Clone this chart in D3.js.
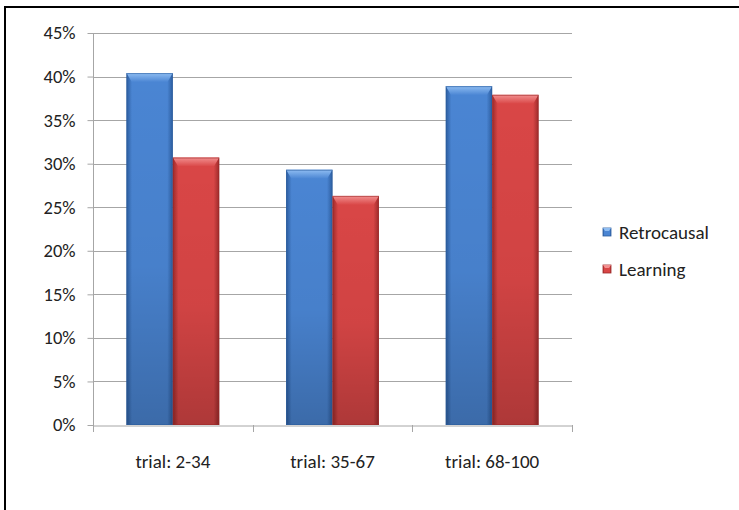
<!DOCTYPE html>
<html>
<head>
<meta charset="utf-8">
<script src="https://cdn.jsdelivr.net/npm/d3@7"></script>
<style>
  html, body { margin: 0; padding: 0; background: #fff; }
  svg { display: block; }
  text { font-family: Carlito, Calibri, Lato, "Open Sans", sans-serif; fill: #222; }
</style>
</head>
<body>
<svg id="chart" width="739" height="510"></svg>
<script>
// Share of hits per trial block
const categories = ["trial: 2-34", "trial: 35-67", "trial: 68-100"];
const seriesNames = ["Retrocausal", "Learning"];
const retrocausal = [0.404, 0.293, 0.389];
const learning = [0.307, 0.263, 0.379];
const yTicks = [0, 0.05, 0.10, 0.15, 0.20, 0.25, 0.30, 0.35, 0.40, 0.45];

const seriesValues = [retrocausal, learning];
const palette = [
  { light: "#8fbdf2", mid: "#4a85d3", dark: "#2c5d9f" },
  { light: "#f29090", mid: "#d94646", dark: "#9c2a2a" }
];

const svg = d3.select("#chart");
const W = 739, H = 510;
const m = { left: 93, right: 167, top: 33, bottom: 85 };
const fontStack = "Carlito, Calibri, Lato, sans-serif";

// frame lines along the top and left
svg.append("line").attr("x1", 5).attr("x2", W).attr("y1", 7).attr("y2", 7)
  .attr("stroke", "#000").attr("stroke-width", 2);
svg.append("line").attr("x1", 5).attr("x2", 5).attr("y1", 6).attr("y2", H)
  .attr("stroke", "#000").attr("stroke-width", 2);

const x0 = d3.scaleBand().domain(categories).range([m.left, W - m.right]).paddingInner(0).paddingOuter(0);
const x1 = d3.scaleBand().domain(seriesNames).range([0, x0.bandwidth()]).paddingInner(0).paddingOuter(0.72);
const y = d3.scaleLinear().domain([0, 0.45]).range([H - m.bottom, m.top]);

const defs = svg.append("defs");
palette.forEach((c, i) => {
  const hg = defs.append("linearGradient").attr("id", "body" + i).attr("x1", 0).attr("x2", 1).attr("y1", 0).attr("y2", 0);
  hg.append("stop").attr("offset", "0%").attr("stop-color", c.dark);
  hg.append("stop").attr("offset", "12%").attr("stop-color", c.mid);
  hg.append("stop").attr("offset", "88%").attr("stop-color", c.mid);
  hg.append("stop").attr("offset", "100%").attr("stop-color", c.dark);
  const tg = defs.append("linearGradient").attr("id", "top" + i).attr("x1", 0).attr("x2", 0).attr("y1", 0).attr("y2", 1);
  tg.append("stop").attr("offset", "0%").attr("stop-color", c.light);
  tg.append("stop").attr("offset", "100%").attr("stop-color", c.mid);
});
const shade = defs.append("linearGradient").attr("id", "shade").attr("x1", 0).attr("x2", 0).attr("y1", 0).attr("y2", 1);
shade.append("stop").attr("offset", "0%").attr("stop-color", "#000").attr("stop-opacity", 0);
shade.append("stop").attr("offset", "55%").attr("stop-color", "#000").attr("stop-opacity", 0.04);
shade.append("stop").attr("offset", "100%").attr("stop-color", "#000").attr("stop-opacity", 0.2);

// horizontal gridlines
svg.append("g").selectAll("line").data(yTicks.slice(1)).join("line")
  .attr("x1", m.left).attr("x2", W - m.right)
  .attr("y1", d => Math.round(y(d)) + 0.5).attr("y2", d => Math.round(y(d)) + 0.5)
  .attr("stroke", "#a6a6a6").attr("stroke-width", 1);

// y axis
const yAxis = svg.append("g").attr("transform", `translate(${m.left + 0.5},0)`)
  .call(d3.axisLeft(y).tickValues(yTicks).tickFormat(d3.format(".0%")).tickSize(6).tickPadding(12));
yAxis.select(".domain").attr("stroke", "#a6a6a6").attr("d", `M0,${y(0.45)}V${y(0)}`);
yAxis.selectAll(".tick line").attr("stroke", "#a6a6a6");
yAxis.selectAll(".tick text").attr("font-size", 18.5).attr("fill", "#222")
  .attr("font-family", fontStack);

// x axis
const xAxis = svg.append("g").attr("transform", `translate(0,${Math.round(y(0)) + 0.5})`)
  .call(d3.axisBottom(x0).tickSize(0).tickPadding(29));
xAxis.select(".domain").attr("stroke", "#a6a6a6");
xAxis.selectAll(".tick text").attr("font-size", 19).attr("fill", "#222")
  .attr("font-family", fontStack);
// category separators
svg.append("g").selectAll("line")
  .data(categories.map(c => x0(c)).concat([x0(categories[categories.length - 1]) + x0.bandwidth()]))
  .join("line")
  .attr("x1", d => Math.round(d) + 0.5).attr("x2", d => Math.round(d) + 0.5)
  .attr("y1", Math.round(y(0))).attr("y2", Math.round(y(0)) + 7)
  .attr("stroke", "#a6a6a6");

// bars with bevelled tops
const bars = [];
categories.forEach((c, ci) => {
  seriesNames.forEach((s, si) => {
    bars.push({ cat: c, s: s, si: si, v: seriesValues[si][ci] });
  });
});
const bev = 9;
const g = svg.append("g").selectAll("g").data(bars).join("g")
  .attr("transform", d => `translate(${x0(d.cat) + x1(d.s)},0)`);
const bw = x1.bandwidth();
g.append("rect").attr("x", 0).attr("width", bw)
  .attr("y", d => y(d.v)).attr("height", d => y(0) - y(d.v))
  .attr("fill", d => `url(#body${d.si})`);
g.append("rect").attr("x", 0).attr("width", bw)
  .attr("y", d => y(d.v)).attr("height", d => y(0) - y(d.v))
  .attr("fill", "url(#shade)");
g.append("path")
  .attr("d", d => { const t = y(d.v); return `M0,${t}H${bw}L${bw - bev * 0.6},${t + bev}H${bev * 0.6}Z`; })
  .attr("fill", d => `url(#top${d.si})`);
g.append("rect").attr("x", 0.5).attr("width", bw - 1)
  .attr("y", d => y(d.v) + 0.5).attr("height", d => y(0) - y(d.v) - 1)
  .attr("fill", "none").attr("stroke", d => palette[d.si].dark).attr("stroke-opacity", 0.6);

// legend
const legend = svg.append("g").attr("transform", "translate(603,228)");
seriesNames.forEach((s, i) => {
  const lg = legend.append("g").attr("transform", `translate(0,${i * 37})`);
  lg.append("rect").attr("width", 8).attr("height", 8).attr("fill", `url(#body${i})`)
    .attr("stroke", palette[i].dark).attr("stroke-width", 0.8);
  lg.append("path").attr("d", "M0,0H8L6,3H2Z").attr("fill", palette[i].light);
  lg.append("text").attr("x", 16).attr("y", 4).attr("dy", "0.35em")
    .attr("font-size", 19).attr("font-family", fontStack).text(s);
});
</script>
</body>
</html>
